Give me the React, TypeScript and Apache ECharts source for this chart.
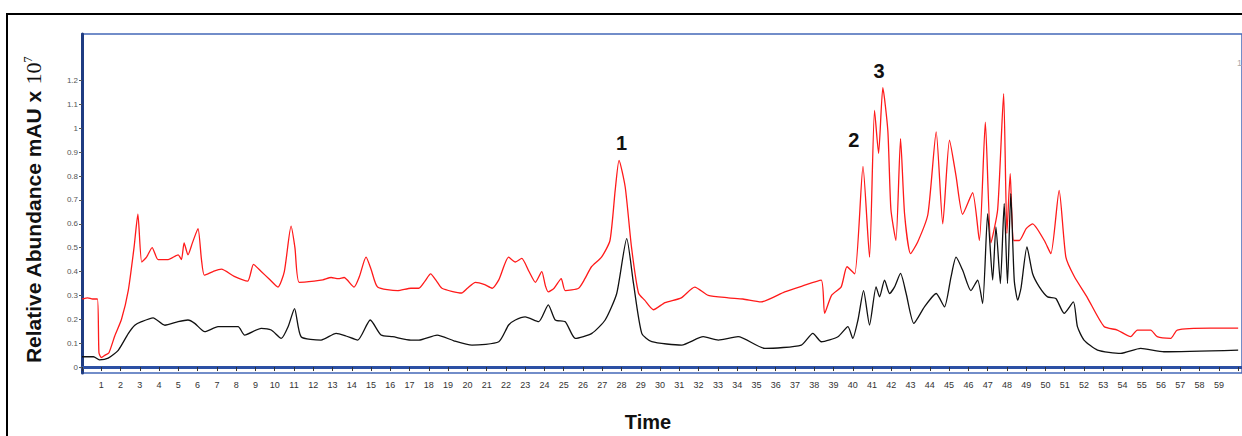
import React, { useEffect, useRef } from "react";
import * as echarts from "echarts";

// Retention time (min) vs relative abundance (mAU x 10^7)
const redTrace: [number, number][] = [
  [0, 0.285], [0.3, 0.29], [0.55, 0.285], [0.8, 0.285], [0.88, 0.06], [1.0, 0.04], [1.2, 0.05], [1.4, 0.06],
  [1.7, 0.13], [2.05, 0.2], [2.4, 0.32], [2.7, 0.5], [2.9, 0.64], [3.1, 0.44], [3.35, 0.46], [3.64, 0.5],
  [3.95, 0.45], [4.47, 0.45], [4.99, 0.47], [5.16, 0.45], [5.3, 0.52], [5.5, 0.47], [5.73, 0.52], [6.02, 0.58],
  [6.2, 0.45], [6.35, 0.385], [6.8, 0.4], [7.23, 0.41], [7.9, 0.38], [8.6, 0.36], [8.9, 0.43], [9.3, 0.4],
  [9.7, 0.37], [10.17, 0.335], [10.5, 0.4], [10.85, 0.59], [11.05, 0.5], [11.27, 0.355], [12.05, 0.36],
  [12.5, 0.365], [12.93, 0.375], [13.3, 0.37], [13.6, 0.375], [14.12, 0.335], [14.4, 0.38], [14.74, 0.46],
  [15.0, 0.41], [15.34, 0.335], [16.38, 0.32], [17.07, 0.33], [17.48, 0.33], [17.8, 0.36], [18.09, 0.39],
  [18.4, 0.36], [18.68, 0.33], [19.7, 0.31], [20.0, 0.33], [20.42, 0.355], [20.9, 0.345], [21.28, 0.33],
  [21.63, 0.365], [22.14, 0.46], [22.49, 0.44], [22.82, 0.455], [23.2, 0.4], [23.53, 0.355], [23.86, 0.4],
  [24.05, 0.34], [24.2, 0.315], [24.5, 0.33], [24.87, 0.37], [25.08, 0.32], [25.77, 0.33], [26.1, 0.37],
  [26.44, 0.42], [26.96, 0.46], [27.4, 0.53], [27.67, 0.74], [27.87, 0.866], [28.19, 0.754], [28.52, 0.5],
  [28.88, 0.31], [29.2, 0.28], [29.65, 0.24], [30.26, 0.27], [31.1, 0.29], [31.8, 0.335], [32.5, 0.3],
  [33.54, 0.29], [34.3, 0.285], [35.24, 0.273], [36.47, 0.315], [37.4, 0.34], [38.36, 0.364], [38.54, 0.225],
  [38.9, 0.3], [39.4, 0.336], [39.7, 0.42], [40.1, 0.39], [40.53, 0.84], [40.87, 0.46], [41.13, 1.075],
  [41.34, 0.895], [41.56, 1.17], [41.82, 0.99], [41.98, 0.66], [42.24, 0.53], [42.48, 0.957], [42.69, 0.64],
  [43.0, 0.475], [43.37, 0.524], [43.9, 0.64], [44.33, 0.985], [44.67, 0.6], [45.02, 0.95], [45.36, 0.8],
  [45.7, 0.64], [46.22, 0.73], [46.57, 0.53], [46.88, 1.026], [47.17, 0.52], [47.52, 0.66], [47.83, 1.145],
  [48.0, 0.56], [48.17, 0.81], [48.35, 0.53], [48.64, 0.53], [49.0, 0.58], [49.33, 0.6], [49.94, 0.53],
  [50.28, 0.475], [50.71, 0.74], [51.06, 0.46], [51.49, 0.38], [52.18, 0.29], [53.04, 0.17], [53.73, 0.155],
  [54.42, 0.127], [54.77, 0.155], [55.46, 0.155], [55.8, 0.127], [56.5, 0.12], [56.84, 0.155], [58.55, 0.163],
  [60, 0.163],
];

const blackTrace: [number, number][] = [
  [0, 0.043], [0.6, 0.043], [0.9, 0.03], [1.36, 0.037], [1.88, 0.07], [2.4, 0.14], [2.74, 0.175], [3.09, 0.19],
  [3.69, 0.206], [4.3, 0.175], [4.99, 0.19], [5.5, 0.197], [5.85, 0.183], [6.37, 0.148], [7.06, 0.169],
  [8.1, 0.169], [8.44, 0.134], [9.3, 0.162], [9.82, 0.155], [10.34, 0.12], [10.7, 0.17], [11.03, 0.245],
  [11.37, 0.127], [12.41, 0.113], [13.19, 0.141], [13.7, 0.13], [14.31, 0.113], [14.96, 0.197], [15.52, 0.134],
  [16.12, 0.127], [17.07, 0.113], [17.48, 0.113], [18.43, 0.134], [19.3, 0.11], [20.24, 0.092], [21.63, 0.106],
  [22.14, 0.176], [22.49, 0.197], [23.0, 0.21], [23.7, 0.19], [24.2, 0.26], [24.56, 0.197], [25.08, 0.19],
  [25.6, 0.12], [26.46, 0.141], [27.15, 0.197], [27.75, 0.308], [28.27, 0.538], [28.62, 0.35], [29.05, 0.141],
  [29.57, 0.106], [31.12, 0.092], [32.24, 0.127], [33.02, 0.113], [34.05, 0.127], [35.44, 0.078], [37.33, 0.092],
  [37.93, 0.141], [38.37, 0.106], [39.23, 0.127], [39.75, 0.169], [40.0, 0.12], [40.27, 0.197], [40.56, 0.32],
  [40.87, 0.176], [41.21, 0.336], [41.39, 0.294], [41.65, 0.364], [41.91, 0.308], [42.17, 0.336], [42.48, 0.392],
  [42.77, 0.308], [43.17, 0.183], [43.72, 0.252], [44.33, 0.308], [44.76, 0.252], [45.1, 0.378], [45.36, 0.46],
  [45.7, 0.406], [46.13, 0.32], [46.48, 0.364], [46.74, 0.266], [47.0, 0.643], [47.26, 0.364], [47.43, 0.587],
  [47.66, 0.35], [47.86, 0.685], [48.03, 0.35], [48.2, 0.727], [48.38, 0.364], [48.56, 0.28], [48.73, 0.33],
  [49.04, 0.503], [49.33, 0.392], [49.68, 0.336], [50.11, 0.294], [50.54, 0.287], [50.97, 0.225], [51.45, 0.273],
  [51.66, 0.169], [52.0, 0.113], [52.7, 0.071], [53.9, 0.057], [54.94, 0.078], [56.15, 0.064], [60, 0.071],
];

const yTickValues = [0, 0.1, 0.2, 0.3, 0.4, 0.5, 0.6, 0.7, 0.8, 0.9, 1, 1.1, 1.2];

const peakLabels: { label: string; t: number; v: number }[] = [
  { label: "1", t: 28.0, v: 0.94 },
  { label: "2", t: 40.06, v: 0.95 },
  { label: "3", t: 41.36, v: 1.24 },
];

export default function App() {
  const ref = useRef<HTMLDivElement>(null);

  useEffect(() => {
    if (!ref.current) return;
    const chart = echarts.init(ref.current, null, { renderer: "svg" });
    chart.setOption({
      animation: false,
      backgroundColor: "#ffffff",
      grid: {
        left: 82,
        top: 34,
        right: -3,
        bottom: 63,
        show: true,
        borderColor: "#4468b8",
        borderWidth: 1.5,
        backgroundColor: "transparent",
      },
      xAxis: {
        type: "value",
        min: 0,
        max: 60.2,
        interval: 1,
        axisLine: { show: true, lineStyle: { color: "#2c50a4", width: 3 } },
        axisTick: { show: true, length: 4, lineStyle: { color: "#333", width: 1 } },
        axisLabel: {
          margin: 7,
          fontSize: 9,
          color: "#333",
          fontFamily: "Liberation Sans Narrow, Liberation Sans, sans-serif",
          showMaxLabel: false,
          formatter: (v: number) => (v === 0 || v >= 60 ? "" : String(v)),
        },
        splitLine: { show: false },
      },
      yAxis: {
        type: "value",
        min: -0.025,
        max: 1.395,
        axisLine: { show: true, lineStyle: { color: "#1f3c82", width: 3 } },
        axisTick: {
          show: true,
          length: 3,
          customValues: yTickValues,
          lineStyle: { color: "#555", width: 1 },
        },
        axisLabel: {
          margin: 4,
          fontSize: 8,
          color: "#555",
          fontFamily: "Liberation Sans Narrow, Liberation Sans, sans-serif",
          customValues: yTickValues,
          formatter: (v: number) => String(+v.toFixed(1)),
        },
        splitLine: { show: false },
      },
      series: [
        {
          type: "line",
          data: redTrace,
          showSymbol: false,
          symbol: "none",
          smooth: 0.2,
          lineStyle: { color: "#ff1a1a", width: 1.3 },
          silent: true,
          z: 2,
          markPoint: {
            symbol: "circle",
            symbolSize: 0,
            silent: true,
            label: {
              show: true,
              position: "inside",
              formatter: (p: any) => p.name,
              fontSize: 20,
              fontWeight: "bold",
              color: "#111",
              fontFamily: "Liberation Sans, Arial, sans-serif",
            },
            data: peakLabels.map((p) => ({ name: p.label, coord: [p.t, p.v] })),
          },
        },
        {
          type: "line",
          data: blackTrace,
          showSymbol: false,
          symbol: "none",
          smooth: 0.2,
          lineStyle: { color: "#111111", width: 1.3 },
          silent: true,
          z: 3,
        },
      ],
      graphic: [
        {
          type: "rect",
          shape: { x: 7, y: 14, width: 1260, height: 450 },
          style: { fill: "none", stroke: "#000", lineWidth: 2 },
          silent: true,
        },
        {
          type: "text",
          x: 33,
          y: 210,
          rotation: Math.PI / 2,
          style: {
            text: "{a|Relative Abundance mAU x }{b|10}{c|7}",
            align: "center",
            verticalAlign: "middle",
            rich: {
              a: { fontSize: 21, fontWeight: "bold", fontFamily: "Liberation Sans, Arial, sans-serif", fill: "#111" },
              b: { fontSize: 22, fontFamily: "Liberation Serif, Times New Roman, serif", fill: "#111" },
              c: {
                fontSize: 12,
                fontFamily: "Liberation Serif, Times New Roman, serif",
                fill: "#111",
                verticalAlign: "top",
                padding: [0, 0, 10, 0],
              },
            },
          },
        },
        {
          type: "text",
          x: 648,
          y: 412,
          style: {
            text: "Time",
            align: "center",
            verticalAlign: "top",
            fontSize: 20,
            fontWeight: "bold",
            fontFamily: "Liberation Sans, Arial, sans-serif",
            fill: "#111",
          },
        },
        {
          type: "text",
          x: 1237,
          y: 58,
          style: { text: "1", fontSize: 9, fill: "#aaa", fontFamily: "Liberation Sans, sans-serif" },
        },
      ],
    });
    return () => chart.dispose();
  }, []);

  return (
    <div
      ref={ref}
      style={{ position: "absolute", left: 0, top: 0, width: 1242, height: 436, background: "#fff" }}
    />
  );
}
